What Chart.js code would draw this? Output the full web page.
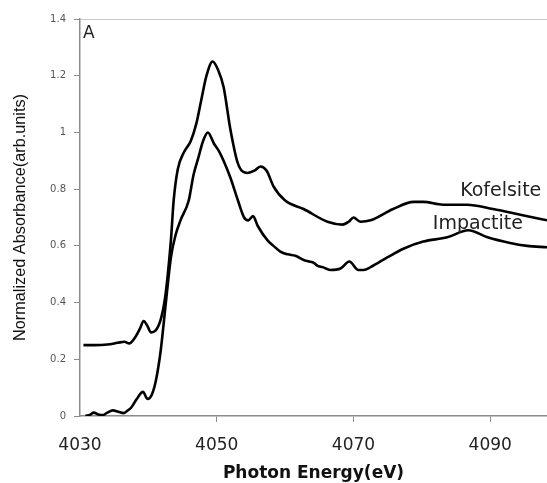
<!DOCTYPE html>
<html>
<head>
<meta charset="utf-8">
<script src="https://cdn.jsdelivr.net/npm/chart.js@4.4.0/dist/chart.umd.min.js"></script>
<style>
  body { margin: 0; background: #fff; }
  #wrap { width: 547px; height: 483px; }
</style>
</head>
<body>
<div id="wrap"><canvas id="xanesChart" width="547" height="483"></canvas></div>
<script>
// Photon energy (eV) and normalized absorbance
const kofelsiteEnergy = [4030.5, 4032, 4034, 4035.5, 4036.5, 4037.2, 4038, 4038.8, 4039.3, 4039.8, 4040.4, 4041,
    4041.8, 4042.4, 4042.8, 4043.3, 4043.7, 4044.3, 4045.2, 4046.2, 4047, 4047.7, 4048.5, 4049.4, 4050.2,
    4051, 4052, 4053.1, 4054.5, 4055.5, 4056.4, 4057.3, 4058.3, 4060, 4062.7, 4066.2, 4068.4, 4069.3,
    4070, 4071, 4072.5, 4075.8, 4078.8, 4080.2, 4083.1, 4086.6, 4090.4, 4094.4, 4098.3];
const kofelsiteAbs = [0.250, 0.250, 0.252, 0.258, 0.262, 0.256, 0.275, 0.31, 0.335, 0.32, 0.295, 0.30,
    0.34, 0.41, 0.49, 0.62, 0.76, 0.87, 0.93, 0.97, 1.03, 1.11, 1.20, 1.25, 1.22,
    1.16, 1.01, 0.89, 0.857, 0.865, 0.88, 0.865, 0.81, 0.76, 0.73, 0.685, 0.675, 0.685,
    0.70, 0.685, 0.69, 0.73, 0.755, 0.755, 0.745, 0.745, 0.73, 0.71, 0.69];

const impactiteEnergy = [4030.8, 4031.5, 4032, 4032.7, 4033.3, 4034, 4034.8, 4035.6, 4036.4, 4037, 4037.5,
    4038.3, 4039.2, 4039.9, 4040.5, 4041.1, 4041.8, 4042.6, 4043.3, 4044, 4044.7, 4045.9, 4046.6, 4047.3,
    4048, 4048.7, 4049.6, 4050.3, 4051, 4052, 4053.1, 4054, 4054.6, 4055.3, 4056, 4057.4, 4058.3, 4059.3,
    4060.4, 4061.5, 4062.7, 4063.5, 4064.2, 4064.7, 4065.5, 4066.6, 4068.1, 4069.4, 4070.7, 4071.5,
    4072.5, 4075, 4077.3, 4080.2, 4083.7, 4086.8, 4089.6, 4092.9, 4095.4, 4098.3];
const impactiteAbs = [0.0, 0.005, 0.012, 0.005, 0.003, 0.012, 0.02, 0.015, 0.01, 0.02, 0.03,
    0.06, 0.085, 0.06, 0.075, 0.125, 0.23, 0.41, 0.56, 0.64, 0.69, 0.76, 0.85, 0.91,
    0.97, 1.0, 0.96, 0.935, 0.90, 0.84, 0.76, 0.70, 0.69, 0.705, 0.67, 0.62, 0.60, 0.58,
    0.57, 0.565, 0.55, 0.545, 0.54, 0.53, 0.525, 0.515, 0.52, 0.545, 0.515, 0.515,
    0.525, 0.56, 0.59, 0.615, 0.63, 0.655, 0.63, 0.61, 0.60, 0.595];

const xTicks = [4030, 4050, 4070, 4090];
const yTicks = [0, 0.2, 0.4, 0.6, 0.8, 1, 1.2, 1.4];

// text labels placed in data coordinates
const seriesLabels = [
    { text: 'Kofelsite', x: 4085.6, y: 0.775 },
    { text: 'Impactite', x: 4081.6, y: 0.66 }
];

function toPoints(xs, ys) {
    return xs.map(function (x, i) { return { x: x, y: ys[i] }; });
}

const axisGray = '#8c8c8c';

// draws the "A" panel letter and the curve names
const labelPlugin = {
    id: 'labelPlugin',
    afterDraw: function (chart) {
        const ctx = chart.ctx;
        const xs = chart.scales.x;
        const ys = chart.scales.y;
        ctx.save();
        ctx.fillStyle = '#222';
        ctx.textBaseline = 'alphabetic';
        ctx.textAlign = 'left';
        ctx.font = '17px "DejaVu Sans"';
        ctx.fillText('A', chart.chartArea.left + 3, chart.chartArea.top + 19);
        ctx.font = '19px "DejaVu Sans"';
        seriesLabels.forEach(function (l) {
            ctx.fillText(l.text, xs.getPixelForValue(l.x), ys.getPixelForValue(l.y));
        });
        ctx.restore();
    }
};

new Chart(document.getElementById('xanesChart'), {
    type: 'line',
    data: {
        datasets: [{
            label: 'Kofelsite',
            data: toPoints(kofelsiteEnergy, kofelsiteAbs),
            borderColor: '#000',
            borderWidth: 2.6,
            pointRadius: 0,
            cubicInterpolationMode: 'monotone',
            fill: false
        }, {
            label: 'Impactite',
            data: toPoints(impactiteEnergy, impactiteAbs),
            borderColor: '#000',
            borderWidth: 2.6,
            pointRadius: 0,
            cubicInterpolationMode: 'monotone',
            fill: false
        }]
    },
    options: {
        responsive: false,
        animation: false,
        layout: { padding: { top: 19, right: 0, left: 0, bottom: 0 } },
        plugins: {
            legend: { display: false },
            tooltip: { enabled: false }
        },
        scales: {
            x: {
                type: 'linear',
                min: 4030,
                max: 4098.3,
                afterBuildTicks: function (scale) {
                    scale.ticks = xTicks.map(function (v) { return { value: v }; });
                },
                afterFit: function (scale) { scale.height = 67; },
                border: { color: axisGray, width: 1.5 },
                grid: {
                    drawOnChartArea: false,
                    color: axisGray,
                    tickColor: function (c) { return c.tick && c.tick.value === 4030 ? 'transparent' : axisGray; },
                    tickLength: 6
                },
                ticks: {
                    color: '#222',
                    padding: 13,
                    maxRotation: 0,
                    font: { family: '"DejaVu Sans"', size: 17 },
                    callback: function (v) { return String(v); }
                },
                title: {
                    display: true,
                    text: 'Photon Energy(eV)',
                    color: '#111',
                    padding: { top: 0, bottom: 0 },
                    font: { family: '"DejaVu Sans"', size: 17, weight: 'bold', lineHeight: 1.1 }
                }
            },
            y: {
                min: 0,
                max: 1.4,
                afterBuildTicks: function (scale) {
                    scale.ticks = yTicks.map(function (v) { return { value: v }; });
                },
                afterFit: function (scale) { scale.width = 80; },
                border: { color: axisGray, width: 1.5 },
                grid: {
                    color: function (c) { return c.tick && c.tick.value === 1.4 ? '#c8c8c8' : 'transparent'; },
                    tickColor: axisGray,
                    tickLength: 6
                },
                ticks: {
                    color: '#555',
                    padding: 8,
                    font: { family: '"DejaVu Sans"', size: 10 },
                    callback: function (v) { return String(v); }
                },
                title: {
                    display: true,
                    text: 'Normalized Absorbance(arb.units)',
                    color: '#111',
                    padding: { top: 12, bottom: 0 },
                    font: { family: '"Liberation Sans", sans-serif', size: 16.3, lineHeight: 1.0 }
                }
            }
        }
    },
    plugins: [labelPlugin]
});
</script>
</body>
</html>
